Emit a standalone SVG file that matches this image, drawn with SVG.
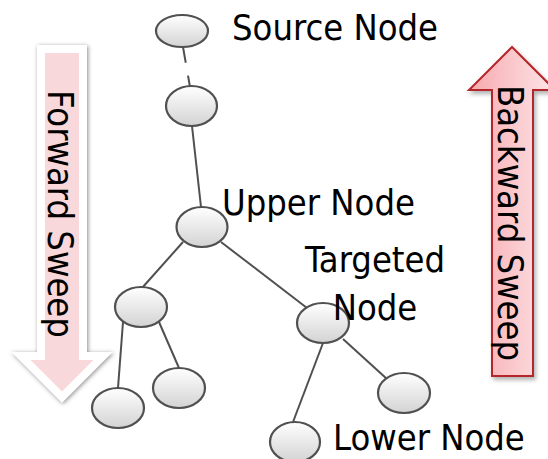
<svg xmlns="http://www.w3.org/2000/svg" width="548" height="459" viewBox="0 0 548 459">
  <defs>
    <linearGradient id="nodeFill" x1="0" y1="0" x2="0" y2="1">
      <stop offset="0" stop-color="#ffffff"/>
      <stop offset="1" stop-color="#d3d3d3"/>
    </linearGradient>
    <linearGradient id="backFill" x1="0" y1="0" x2="1" y2="0">
      <stop offset="0" stop-color="#f7a9ae"/>
      <stop offset="1" stop-color="#fde6e8"/>
    </linearGradient>
    <filter id="softShadow" x="-30%" y="-10%" width="160%" height="120%">
      <feDropShadow dx="1" dy="1" stdDeviation="2" flood-color="#6a6a6a" flood-opacity="0.8"/>
    </filter>
    <filter id="redShadow" x="-30%" y="-10%" width="160%" height="120%">
      <feDropShadow dx="2" dy="3" stdDeviation="2" flood-color="#666" flood-opacity="0.5"/>
    </filter>
  </defs>
  <style>
    .node { fill: url(#nodeFill); stroke: #505050; stroke-width: 2.2; }
    .edge { stroke: #505050; stroke-width: 2; fill: none; }
    .lbl { font-family: "DejaVu Sans Condensed", "DejaVu Sans", sans-serif; font-stretch: condensed; font-size: 36px; fill: #000; }
  </style>

  <g id="forward-sweep">
    <polygon points="41,49 83,49 83,356 103,356 62,397 21,356 41,356" fill="#f8d8da" stroke="#ffffff" stroke-width="8" stroke-linejoin="miter" filter="url(#softShadow)"/>
    <text class="lbl" transform="translate(48,90) rotate(90)">Forward Sweep</text>
  </g>

  <g id="backward-sweep">
    <polygon points="512,47 555,90 533,90 533,376 492,376 492,90 469,90" fill="url(#backFill)" stroke="#b5252b" stroke-width="2" filter="url(#redShadow)"/>
    <text class="lbl" transform="translate(498,85) rotate(90)">Backward Sweep</text>
  </g>

  <g id="connectors">
    <line class="edge" x1="183" y1="47" x2="190" y2="87" stroke-width="3.5" stroke-dasharray="16 13"/>
    <line class="edge" x1="192" y1="126" x2="201" y2="207"/>
    <line class="edge" x1="183" y1="242" x2="142" y2="288"/>
    <line class="edge" x1="221" y1="242" x2="307" y2="308"/>
    <line class="edge" x1="123" y1="322" x2="118" y2="388"/>
    <line class="edge" x1="159" y1="322" x2="179" y2="368"/>
    <line class="edge" x1="323" y1="343" x2="293" y2="422"/>
    <line class="edge" x1="343" y1="339" x2="387" y2="379"/>
  </g>

  <g id="source-node">
    <ellipse class="node" cx="182" cy="31" rx="26" ry="16"/>
    <text class="lbl" x="232" y="40">Source Node</text>
  </g>
  <g id="node-2">
    <ellipse class="node" cx="191.5" cy="106" rx="25.5" ry="20"/>
  </g>
  <g id="upper-node">
    <ellipse class="node" cx="202" cy="227" rx="25.5" ry="20"/>
    <text class="lbl" x="222" y="215">Upper Node</text>
  </g>
  <g id="left-child">
    <ellipse class="node" cx="141" cy="307" rx="26" ry="20"/>
  </g>
  <g id="leaf-1">
    <ellipse class="node" cx="118" cy="408" rx="26" ry="20"/>
  </g>
  <g id="leaf-2">
    <ellipse class="node" cx="179" cy="388" rx="26" ry="20"/>
  </g>
  <g id="targeted-node">
    <ellipse class="node" cx="323" cy="323" rx="26" ry="20"/>
    <text class="lbl" text-anchor="middle"><tspan x="375" y="272">Targeted</tspan><tspan x="375" y="320">Node</tspan></text>
  </g>
  <g id="right-leaf">
    <ellipse class="node" cx="404" cy="393" rx="26" ry="20"/>
  </g>
  <g id="lower-node">
    <ellipse class="node" cx="295" cy="442" rx="25" ry="20"/>
    <text class="lbl" x="333" y="450">Lower Node</text>
  </g>
</svg>
